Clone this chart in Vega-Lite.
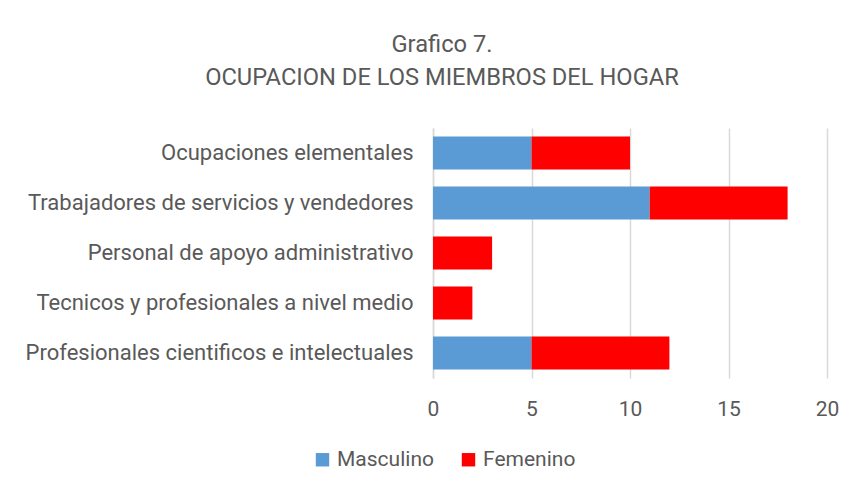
{
  "$schema": "https://vega.github.io/schema/vega-lite/v6.json",
  "width": 394,
  "height": 250,
  "autosize": "none",
  "padding": {"left": 433, "top": 128, "right": 31, "bottom": 117},
  "background": "white",
  "title": {
    "text": ["Grafico 7.", "OCUPACION DE LOS MIEMBROS DEL HOGAR"],
    "anchor": "middle",
    "frame": "group",
    "dx": -188,
    "font": "Roboto",
    "fontSize": 23.7,
    "fontWeight": "normal",
    "color": "#595959",
    "lineHeight": 33,
    "offset": 38
  },
  "data": {
    "values": [
      {"ocupacion": "Ocupaciones elementales", "sexo": "Masculino", "valor": 5, "orden": 1},
      {"ocupacion": "Ocupaciones elementales", "sexo": "Femenino", "valor": 5, "orden": 2},
      {"ocupacion": "Trabajadores de servicios y vendedores", "sexo": "Masculino", "valor": 11, "orden": 1},
      {"ocupacion": "Trabajadores de servicios y vendedores", "sexo": "Femenino", "valor": 7, "orden": 2},
      {"ocupacion": "Personal de apoyo administrativo", "sexo": "Masculino", "valor": 0, "orden": 1},
      {"ocupacion": "Personal de apoyo administrativo", "sexo": "Femenino", "valor": 3, "orden": 2},
      {"ocupacion": "Tecnicos y profesionales a nivel medio", "sexo": "Masculino", "valor": 0, "orden": 1},
      {"ocupacion": "Tecnicos y profesionales a nivel medio", "sexo": "Femenino", "valor": 2, "orden": 2},
      {"ocupacion": "Profesionales cientificos e intelectuales", "sexo": "Masculino", "valor": 5, "orden": 1},
      {"ocupacion": "Profesionales cientificos e intelectuales", "sexo": "Femenino", "valor": 7, "orden": 2}
    ]
  },
  "mark": {"type": "bar"},
  "encoding": {
    "y": {
      "field": "ocupacion",
      "type": "nominal",
      "sort": ["Ocupaciones elementales", "Trabajadores de servicios y vendedores", "Personal de apoyo administrativo", "Tecnicos y profesionales a nivel medio", "Profesionales cientificos e intelectuales"],
      "scale": {"paddingInner": 0.34, "paddingOuter": 0.17},
      "axis": {
        "title": null,
        "ticks": false,
        "domain": true,
        "domainColor": "#d9d9d9",
        "domainWidth": 1.5,
        "labelFont": "Roboto",
        "labelFontSize": 22,
        "labelColor": "#595959",
        "labelPadding": 20,
        "labelLimit": 500
      }
    },
    "x": {
      "field": "valor",
      "type": "quantitative",
      "stack": "zero",
      "scale": {"domain": [0, 20], "nice": false},
      "axis": {
        "title": null,
        "values": [0, 5, 10, 15, 20],
        "grid": true,
        "gridColor": "#d9d9d9",
        "gridWidth": 1.5,
        "domain": false,
        "ticks": false,
        "labelFlush": false,
        "labelFont": "Roboto",
        "labelFontSize": 21,
        "labelColor": "#595959",
        "labelPadding": 20
      }
    },
    "color": {
      "field": "sexo",
      "type": "nominal",
      "scale": {"domain": ["Masculino", "Femenino"], "range": ["#5B9BD5", "#FF0000"]},
      "legend": {
        "title": null,
        "orient": "none",
        "direction": "horizontal",
        "legendX": -121,
        "legendY": 321,
        "symbolType": "square",
        "symbolSize": 180,
        "symbolStrokeWidth": 0,
        "labelFont": "Roboto",
        "labelFontSize": 21,
        "labelColor": "#595959",
        "labelOffset": 4,
        "columnPadding": 24
      }
    },
    "order": {"field": "orden", "type": "quantitative"}
  },
  "config": {
    "view": {"stroke": null},
    "axis": {"gridDash": []}
  }
}
